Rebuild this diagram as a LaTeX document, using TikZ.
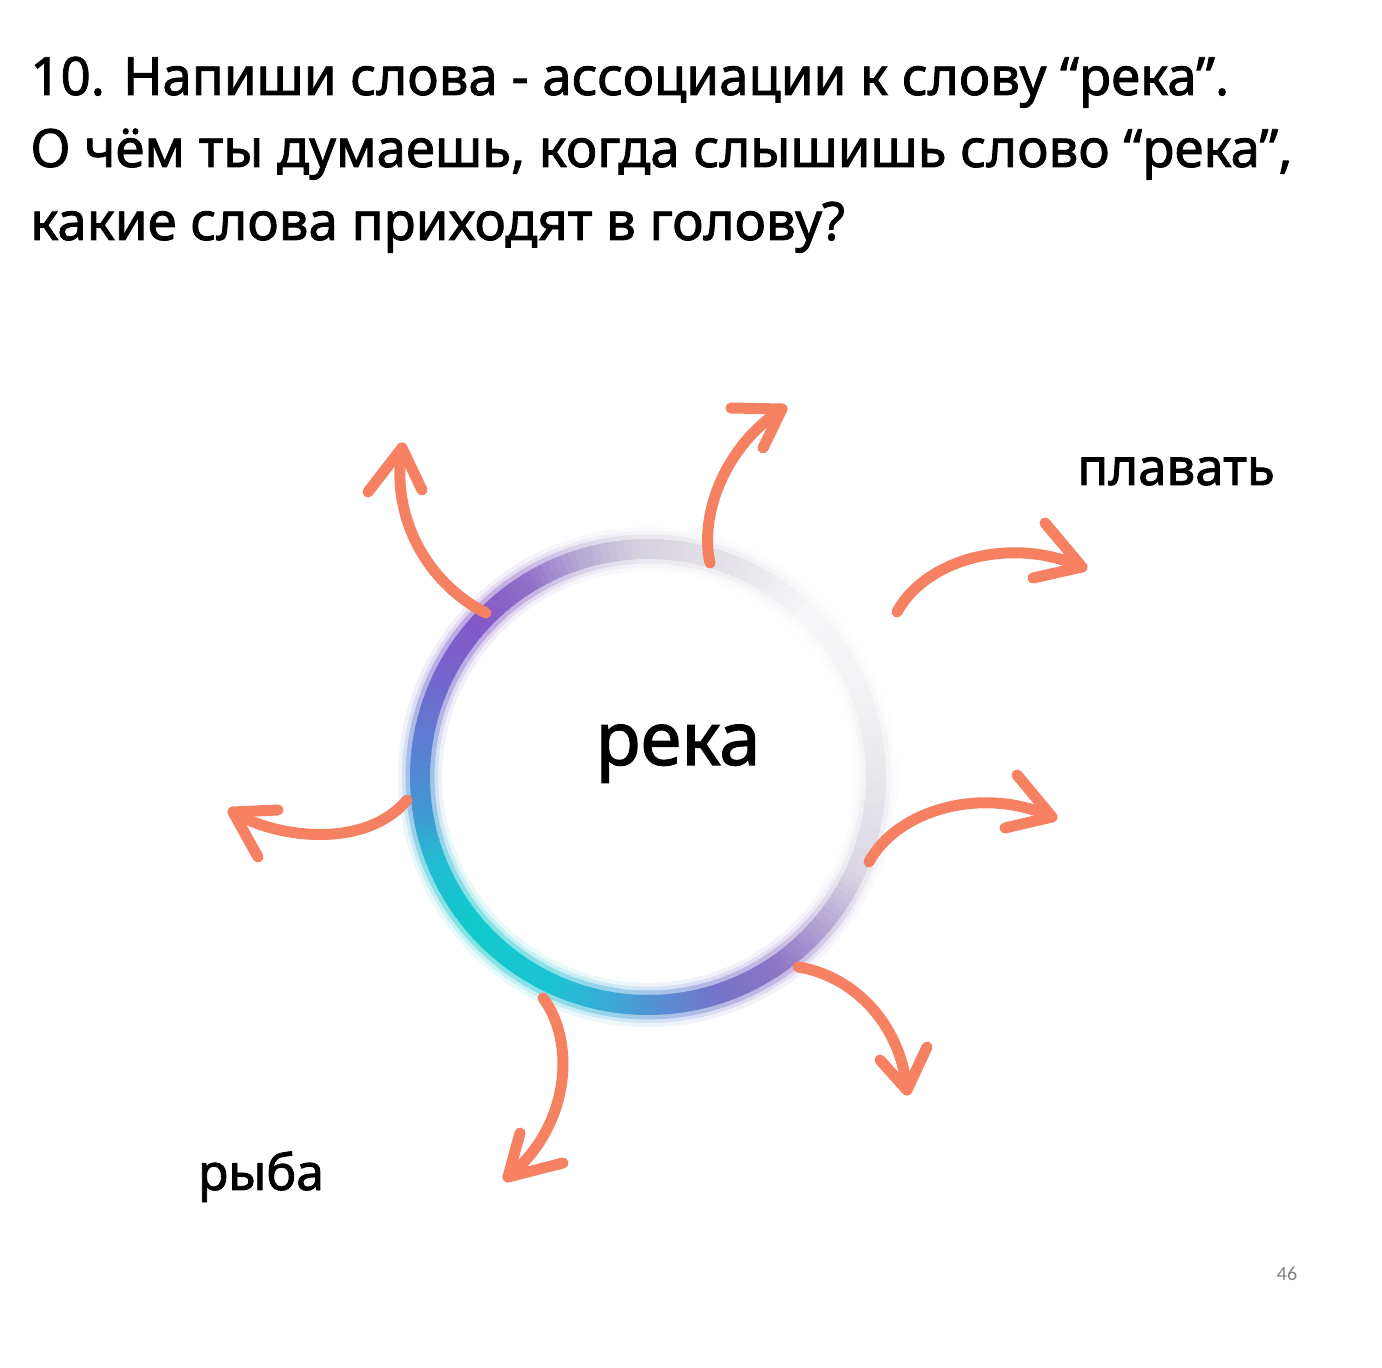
\documentclass[tikz,border=0pt]{standalone}
\usepackage{fontspec}
\setmainfont{Noto Sans}[FakeBold=1.2]
\newfontfamily\heavyfont{Noto Sans}[FakeBold=1.6]
\newfontfamily\pagenumfont{Carlito}
\definecolor{arrc}{RGB}{246,128,98}
\definecolor{k0}{HTML}{E8E8EC}
\definecolor{k1}{HTML}{DAD6E2}
\definecolor{k2}{HTML}{B4A6D4}
\definecolor{k3}{HTML}{8E78C6}
\definecolor{k4}{HTML}{7870C8}
\definecolor{k5}{HTML}{5C8AD2}
\definecolor{k6}{HTML}{38AAD6}
\definecolor{k7}{HTML}{1CC4D2}
\definecolor{k8}{HTML}{10CACC}
\definecolor{k9}{HTML}{22BCD2}
\definecolor{k10}{HTML}{4496D4}
\definecolor{k11}{HTML}{5C7ED2}
\definecolor{k12}{HTML}{7466CC}
\definecolor{k13}{HTML}{8458C8}
\definecolor{k14}{HTML}{9070C8}
\definecolor{k15}{HTML}{B4A8D4}
\definecolor{k16}{HTML}{D6D2DE}
\definecolor{k17}{HTML}{E4E2E8}
\definecolor{k18}{HTML}{F7F7F9}
\definecolor{k19}{HTML}{F2F2F4}
\newcommand\ringpass[2]{%
  \foreach \a/\b/\ca/\cb in {0/25/k0/k1,25/40/k1/k2,40/55/k2/k3,55/70/k3/k4,70/85/k4/k5,85/100/k5/k6,100/115/k6/k7,115/140/k7/k8,140/158/k8/k9,158/172/k9/k10,172/188/k10/k11,188/205/k11/k12,205/222/k12/k13,222/238/k13/k14,238/252/k14/k15,252/268/k15/k16,268/290/k16/k17,290/315/k17/k18,315/340/k18/k19,340/360/k19/k0}{%
    \foreach \t in {0,...,7}{%
      \pgfmathsetmacro\s{\a+(\b-\a)*\t/8}%
      \pgfmathsetmacro\e{\a+(\b-\a)*(\t+1)/8+0.4}%
      \pgfmathtruncatemacro\p{\t*12.5+6}%
      \colorlet{segc}{\cb!\p!\ca}%
      \draw[line width=#1, draw=segc!#2!white] (ctr) ++(\s:228) arc[start angle=\s, end angle=\e, radius=228];
    }%
  }%
}
\tikzset{
  arr/.style={draw=arrc, line width=5.5pt, line cap=round, line join=round},
  title/.style={anchor=base west, inner sep=0pt, font=\heavyfont\fontsize{26.4}{32}\selectfont},
  word/.style={anchor=base, inner sep=0pt, font=\heavyfont\fontsize{25.5}{30}\selectfont}
}
\begin{document}
\begin{tikzpicture}[x=0.5pt, y=-0.5pt]
\useasboundingbox[fill=white] (0,0) rectangle (1382,1368);
\coordinate (ctr) at (648,777);
% ring
\ringpass{22pt}{10}
\ringpass{18pt}{25}
\ringpass{14.5pt}{52}
\ringpass{10pt}{100}
% title
\node[title] (l1) at (30,95) {10. Напиши слова - ассоциации к слову “река”.};
\node[title] (l2) at (30,167) {О чём ты думаешь, когда слышишь слово “река”,};
\node[title] (l3) at (30,240) {какие слова приходят в голову?};
% words
\node[anchor=base, inner sep=0pt, font=\heavyfont\fontsize{37}{44}\selectfont] (reka) at (678,765) {река};
\node[word] (plavat) at (1176,485) {плавать};
\node[word, font=\heavyfont\fontsize{25}{30}\selectfont] (ryba) at (261,1190) {рыба};
\node[anchor=base, inner sep=0pt, text=black!50, font=\pagenumfont\fontsize{10}{12}\selectfont] (pg) at (1287,1280) {46};
% arrows
\coordinate (s1) at (486,613); \coordinate (t1) at (402,448);
\coordinate (w1a) at (368,492); \coordinate (w1b) at (422,490);
\draw[arr] (s1) .. controls (430,585) and (390,520) .. (t1);
\draw[arr] (w1a) -- (t1) -- (w1b);
\coordinate (s2) at (710,563); \coordinate (t2) at (782,409);
\coordinate (w2a) at (731,408); \coordinate (w2b) at (763,448);
\draw[arr] (s2) .. controls (700,520) and (720,450) .. (t2);
\draw[arr] (w2a) -- (t2) -- (w2b);
\coordinate (s3) at (897,612); \coordinate (t3) at (1082,567);
\coordinate (w3a) at (1045,523); \coordinate (w3b) at (1033,578);
\draw[arr] (s3) .. controls (925,560) and (1010,535) .. (t3);
\draw[arr] (w3a) -- (t3) -- (w3b);
\coordinate (s4) at (869,862); \coordinate (t4) at (1052,817);
\coordinate (w4a) at (1017,775); \coordinate (w4b) at (1005,828);
\draw[arr] (s4) .. controls (897,810) and (982,785) .. (t4);
\draw[arr] (w4a) -- (t4) -- (w4b);
\coordinate (s5) at (798,967); \coordinate (t5) at (907,1090);
\coordinate (w5a) at (880,1060); \coordinate (w5b) at (927,1047);
\draw[arr] (s5) .. controls (850,975) and (900,1020) .. (t5);
\draw[arr] (w5a) -- (t5) -- (w5b);
\coordinate (s6) at (543,998); \coordinate (t6) at (508,1177);
\coordinate (w6a) at (520,1133); \coordinate (w6b) at (563,1163);
\draw[arr] (s6) .. controls (575,1040) and (572,1125) .. (t6);
\draw[arr] (w6a) -- (t6) -- (w6b);
\coordinate (s7) at (407,800); \coordinate (t7) at (233,812);
\coordinate (w7a) at (278,810); \coordinate (w7b) at (258,857);
\draw[arr] (s7) .. controls (365,850) and (275,838) .. (t7);
\draw[arr] (w7a) -- (t7) -- (w7b);
\end{tikzpicture}
\end{document}
